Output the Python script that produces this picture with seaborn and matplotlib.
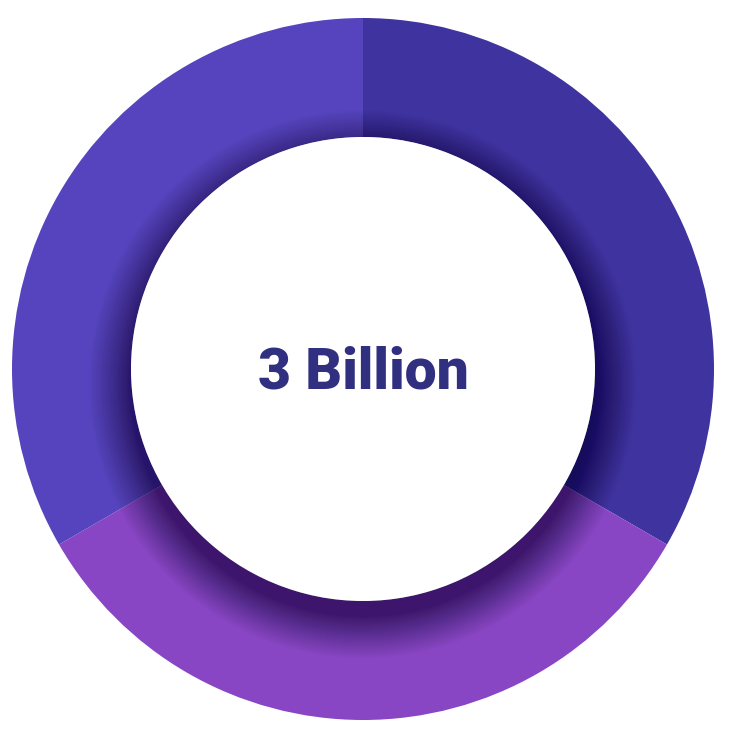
import numpy as np
import seaborn as sns
import matplotlib.pyplot as plt
from matplotlib.patches import Circle

# data
segments = ["Right", "Bottom", "Left"]
values = [1, 1, 1]
colors = ["#3f33a0", "#8845c4", "#5644be"]
center_label = "3 Billion"

sns.set_theme(style="white")
plt.rcParams['font.family'] = ['Roboto', 'DejaVu Sans']

fig = plt.figure(figsize=(7.3, 7.45), dpi=100)
ax = fig.add_axes([0, 0, 1, 1])
ax.set_xlim(0, 730)
ax.set_ylim(0, 745)
ax.set_aspect("equal")
ax.axis("off")

cx, cy = 363, 376
r_out, r_in = 351, 232

ax.pie(values, colors=colors, startangle=90, counterclock=False,
       radius=r_out, center=(cx, cy),
       wedgeprops=dict(width=r_out - r_in, linewidth=0))

# soft drop shadow under the inner circle, offset downward
n = 48
for i in range(n):
    r = r_in + 42 * (1 - i / n) ** 1.3
    ax.add_patch(Circle((cx, cy - 15), r, color="#160c3a", alpha=0.016, lw=0))

ax.add_patch(Circle((cx, cy), r_in, color="white", lw=0))

ax.text(cx, cy - 4, center_label, ha="center", va="center",
        fontsize=41, fontweight="heavy", color="#312f80")

ax.set_xlim(0, 730)
ax.set_ylim(0, 745)
fig.savefig("out.png", dpi=100)
